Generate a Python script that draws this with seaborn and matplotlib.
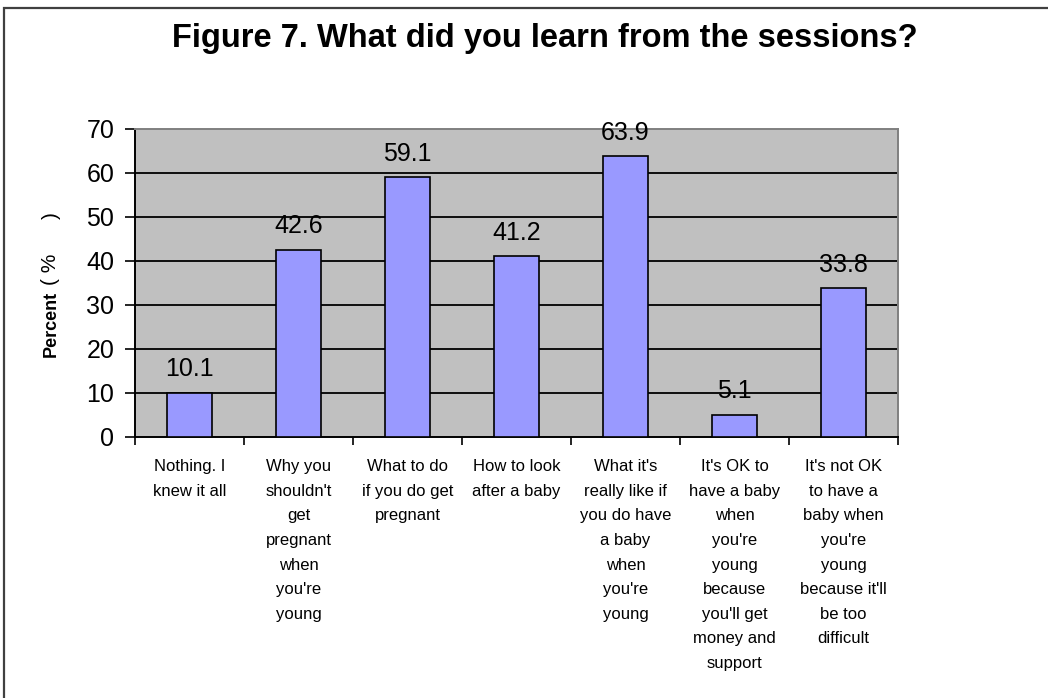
import numpy as np
import pandas as pd
import matplotlib
matplotlib.use('Agg')
import matplotlib.pyplot as plt
from matplotlib.patches import Rectangle
import seaborn as sns

# dados
categories = [
    "Nothing. I\nknew it all",
    "Why you\nshouldn't\nget\npregnant\nwhen\nyou're\nyoung",
    "What to do\nif you do get\npregnant",
    "How to look\nafter a baby",
    "What it's\nreally like if\nyou do have\na baby\nwhen\nyou're\nyoung",
    "It's OK to\nhave a baby\nwhen\nyou're\nyoung\nbecause\nyou'll get\nmoney and\nsupport",
    "It's not OK\nto have a\nbaby when\nyou're\nyoung\nbecause it'll\nbe too\ndifficult",
]
percent = [10.1, 42.6, 59.1, 41.2, 63.9, 5.1, 33.8]
y_ticks = [0, 10, 20, 30, 40, 50, 60, 70]

df = pd.DataFrame({'cat': categories, 'pct': percent})

sns.set_style('white')
plt.rcParams['font.family'] = ['Liberation Sans', 'DejaVu Sans']
plt.rcParams['text.color'] = 'black'
plt.rcParams['xtick.color'] = 'black'
plt.rcParams['ytick.color'] = 'black'
plt.rcParams['axes.labelcolor'] = 'black'

W, H = 1048, 698
fig = plt.figure(figsize=(W / 100, H / 100), dpi=100)
fig.patch.set_facecolor('white')

# moldura do gráfico
fig.patches.append(Rectangle((4 / W, -0.05), 1.1, 1 - 8 / H + 0.05,
                             transform=fig.transFigure, fill=False,
                             edgecolor='#404040', linewidth=1.6))

ax = fig.add_axes([135 / W, 1 - 437 / H, 763 / W, 308 / H])
ax.set_facecolor('#C0C0C0')

sns.barplot(data=df, x='cat', y='pct', order=categories, color='#9999FF',
            saturation=1, width=0.42, edgecolor='black', linewidth=1.2,
            ax=ax, zorder=3)

for v in y_ticks[1:-1]:
    ax.axhline(v, color='black', linewidth=1.3, zorder=1)

ax.set_ylim(0, 70)
ax.set_xlim(-0.5, len(categories) - 0.5)
ax.set_yticks(y_ticks)
ax.set_yticklabels([str(t) for t in y_ticks], fontsize=18)
ax.tick_params(axis='y', direction='out', length=7, width=1.2, pad=8,
               left=True)

ax.set_xticks(range(len(categories)))
ax.set_xticklabels(categories, fontsize=12, linespacing=1.8,
                   ha='center', va='top')
ax.tick_params(axis='x', length=0, pad=16)
ax.set_xticks(np.arange(-0.5, len(categories), 1), minor=True)
ax.tick_params(axis='x', which='minor', direction='out', length=6,
               width=1.2, bottom=True)

for s in ['left', 'bottom']:
    ax.spines[s].set_color('black')
    ax.spines[s].set_linewidth(1.4)
for s in ['top', 'right']:
    ax.spines[s].set_color('#808080')
    ax.spines[s].set_linewidth(1.4)
    ax.spines[s].set_visible(True)

for i, v in enumerate(percent):
    ax.annotate(f'{v:.1f}', (i, v), xytext=(0, 8), textcoords='offset points',
                ha='center', va='bottom', fontsize=18, zorder=4)

ax.set_xlabel('')
ax.set_ylabel('')

# rótulo do eixo y: "Percent" em negrito e "(% )" normal
fig.text(51 / W, 1 - 357 / H, 'Percent', rotation=90, ha='center',
         va='bottom', fontsize=13, fontweight='bold')
fig.text(51 / W, 1 - 285 / H, '( %', rotation=90, ha='center',
         va='bottom', fontsize=15)
fig.text(51 / W, 1 - 212 / H, ')', rotation=90, ha='center',
         va='top', fontsize=15)

fig.text(545 / W, 1 - 47 / H, 'Figure 7. What did you learn from the sessions?',
         ha='center', va='baseline', fontsize=23.5, fontweight='bold')

fig.savefig('out.png', dpi=100)
